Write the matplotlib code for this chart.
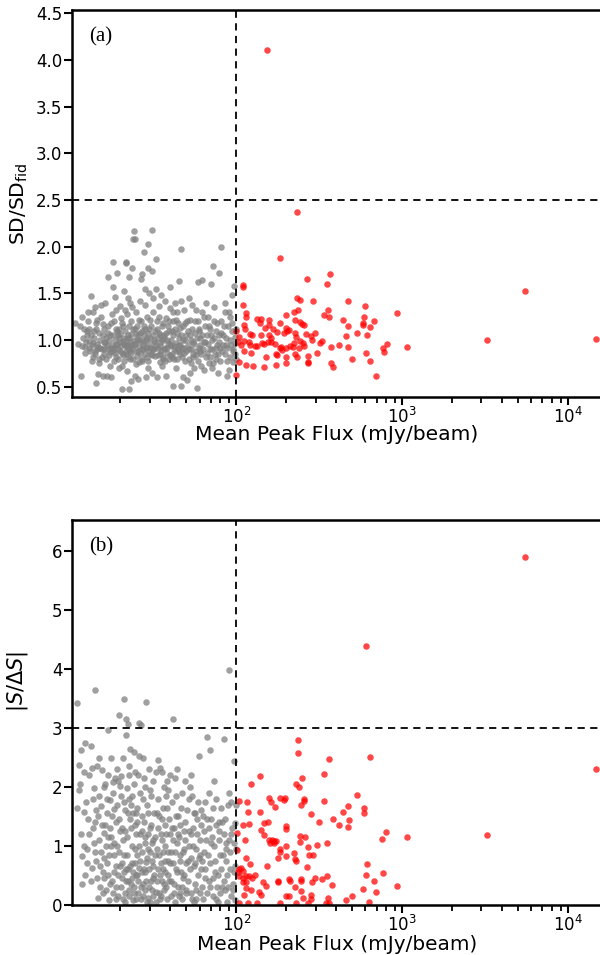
import matplotlib
matplotlib.use("Agg")
import matplotlib.pyplot as plt
import numpy as np

# ---------------- data: panel (a) ----------------
gray_a = [
(10.6,1.18),(11.1,0.96),(11.5,0.62),(11.8,1.25),(12.0,1.12),(12.3,0.93),(11.4,1.15),(12.6,1.05),(12.9,0.92),(12.2,0.86),(11.7,0.94),(12.8,1.2),(13.2,1.47),(12.5,1.1),(13.0,0.99),
(13.4,0.95),(13.7,1.3),(13.9,1.02),(14.1,0.88),(14.3,1.18),(14.5,0.96),(14.2,0.54),(14.6,0.64),(14.9,1.08),(15.1,0.92),(15.3,1.25),(15.5,0.82),(15.2,1.38),(15.8,0.98),(15.9,1.12),(13.6,0.82),(14.0,1.35),(14.8,0.75),(15.6,1.05),(16.0,0.9),(13.8,1.1),(14.4,0.9),(15.6,0.62),
(16.2,1.4),(16.5,0.62),(16.6,0.95),(16.9,1.68),(17.1,0.84),(17.3,1.05),(17.5,0.92),(17.9,1.84),(17.9,1.57),(18.2,1.2),(18.4,0.78),(18.6,1.0),(18.8,1.32),(19.1,1.72),(19.3,0.9),(19.5,0.7),(19.7,1.12),(19.9,0.98),(16.8,1.15),(17.7,1.28),(18.0,0.88),(18.9,0.82),(19.4,1.05),(16.3,1.02),(17.2,0.72),(18.5,1.46),(19.8,1.37),(17.6,0.6),(18.7,0.95),(19.0,1.1),
(20.2,1.24),(20.4,0.86),(20.6,0.99),(20.9,1.52),(21.1,0.78),(21.3,1.1),(21.6,1.84),(21.6,1.83),(21.8,0.93),(22.0,0.67),(22.2,1.45),(22.4,1.68),(22.6,1.02),(22.9,0.88),(23.2,1.2),(23.6,1.77),(23.7,2.08),(24.0,2.17),(24.3,2.08),(24.5,0.96),(24.8,0.74),(24.9,1.3),(20.7,1.15),(21.4,0.95),(22.1,1.05),(22.7,0.8),(23.3,0.95),(23.9,1.12),(24.6,0.62),(20.3,0.72),(21.9,1.28),(23.1,0.56),(20.5,0.48),(22.4,0.48),(22.5,0.9),(24.2,1.0),(20.9,1.02),(21.7,0.85),(23.5,1.35),(24.7,1.06),(22.8,1.4),
(25.3,1.15),(25.6,0.88),(25.9,1.0),(26.2,1.42),(26.7,1.65),(26.9,1.71),(27.1,0.8),(27.6,1.94),(27.9,1.05),(28.2,1.55),(28.5,0.92),(28.8,1.25),(29.2,2.03),(29.2,1.77),(29.5,0.7),(29.9,1.12),(30.3,0.96),(30.6,0.85),(31.0,1.74),(31.0,2.18),(31.5,1.3),(31.8,1.0),(25.8,0.76),(26.5,1.2),(27.3,0.95),(28.0,1.38),(28.9,0.82),(29.7,1.5),(30.9,0.65),(31.3,0.9),(26.1,1.08),(27.8,1.15),(30.1,1.22),(25.5,0.58),(28.4,0.6),(31.6,1.45),(26.9,0.9),(29.0,1.02),
(32.3,0.98),(32.7,1.87),(33.1,1.12),(33.5,0.84),(33.9,1.36),(34.4,0.94),(34.8,1.05),(35.2,1.48),(35.6,0.72),(36.1,1.18),(36.5,0.9),(37.0,1.42),(37.5,0.62),(38.0,1.0),(38.5,1.15),(39.0,0.8),(39.6,1.34),(33.3,0.6),(34.1,1.25),(35.0,0.88),(36.8,1.05),(38.2,0.92),(39.2,1.1),(32.9,1.55),(35.8,1.0),(37.8,1.24),(34.6,0.76),(36.3,0.82),(33.8,1.02),(39.8,0.95),
(40.0,1.57),(40.5,1.0),(41.0,0.85),(41.5,1.2),(42.0,0.94),(42.6,1.4),(43.1,0.7),(43.7,1.08),(44.3,0.9),(45.0,1.63),(45.6,1.13),(46.3,1.97),(46.9,0.82),(47.5,1.0),(48.1,1.32),(48.8,0.78),(49.5,1.05),(41.5,0.51),(46.3,0.51),(44.0,1.3),(46.0,0.95),(47.8,0.6),(43.0,1.22),(45.3,0.88),(49.0,1.18),(40.8,1.1),(42.3,0.8),(44.8,1.02),(46.6,1.42),(48.5,0.92),(41.2,1.3),
(50.6,0.57),(51.2,1.1),(52.0,0.9),(52.8,1.22),(53.5,0.75),(54.3,1.38),(55.1,0.98),(56.0,1.08),(56.8,0.84),(57.6,0.49),(58.4,1.2),(58.7,1.62),(59.3,0.92),(60.2,1.02),(61.0,0.72),(62.0,1.3),(62.3,1.64),(53.0,1.0),(55.6,0.7),(57.0,1.32),(60.6,0.88),(51.6,1.45),(54.8,0.85),(59.8,1.12),(52.4,0.65),
(63.5,0.98),(64.5,1.15),(65.6,0.82),(66.7,1.05),(67.8,1.25),(69.0,0.9),(70.3,1.6),(70.9,0.7),(71.6,1.0),(72.6,1.79),(72.9,1.2),(74.0,0.85),(75.2,1.1),(76.3,0.95),(77.5,0.65),(78.2,1.72),(78.7,1.05),(66.0,1.4),(68.5,0.75),(73.5,1.35),(64.0,0.68),(69.5,1.12),(75.8,0.8),(79.5,0.92),
(80.3,1.2),(81.0,2.0),(82.0,0.88),(83.5,1.05),(84.8,1.3),(86.0,0.95),(87.5,0.78),(89.0,1.15),(90.5,0.68),(92.0,1.0),(93.5,1.1),(94.6,1.48),(95.5,0.9),(96.8,1.58),(97.5,1.03),(98.5,0.85),(99.0,1.12),(85.5,1.4),(88.0,0.62),(91.0,1.25),(95.0,0.76),
(13.1,0.88),(13.3,1.05),(13.5,0.78),(13.7,0.97),(14.0,0.85),(14.2,1.12),(14.4,1.22),(14.7,0.93),(14.9,0.8),(15.0,1.0),(15.4,0.9),(15.7,1.17),(15.9,0.85),(16.1,0.97),(16.4,0.8),(16.7,1.08),(16.9,0.9),(17.1,1.0),(17.4,0.87),(17.6,1.18),(17.8,0.95),(18.1,1.05),(18.3,0.92),(18.6,0.86),(18.8,1.12),(19.1,0.96),(19.2,0.8),(19.6,1.02),(19.8,0.88),(20.0,1.07),
(20.2,0.94),(20.5,1.18),(20.8,0.84),(21.0,0.96),(21.2,1.32),(21.5,0.88),(21.8,1.02),(22.0,0.96),(22.3,0.82),(22.5,1.15),(22.8,0.98),(23.0,0.86),(23.3,1.07),(23.5,0.92),(23.8,0.8),(24.1,0.95),(24.4,1.12),(24.7,0.88),(25.0,1.0),(25.2,0.83),(25.5,1.05),(25.8,0.94),(26.0,1.22),(26.3,0.86),(26.6,1.0),(26.8,0.78),(27.1,1.1),(27.4,0.9),(27.7,0.98),(28.0,0.85),
(28.3,1.12),(28.6,1.0),(28.8,0.93),(29.1,0.78),(29.4,1.08),(29.7,0.88),(30.0,1.02),(30.4,0.92),(30.7,1.15),(31.1,0.84),(31.4,1.05),(31.8,0.9),(32.1,1.1),(32.5,0.83),(32.9,0.95),(33.3,1.2),(33.7,0.92),(34.2,1.08),(34.6,0.85),(35.1,0.98),(35.5,1.15),(35.9,0.8),(36.4,1.02),(36.9,0.92),(37.3,0.78),(37.8,1.08),(38.3,0.86),(38.7,0.97),(39.3,1.2),(39.7,0.84),
(40.2,0.95),(40.7,0.82),(41.3,1.05),(41.8,0.9),(42.4,1.12),(43.0,0.88),(43.5,0.97),(44.1,0.8),(44.6,1.18),(45.2,0.95),(45.8,0.85),(46.4,1.05),(47.0,0.92),(47.6,1.15),(48.2,0.86),(48.9,1.0),(49.5,0.88),(50.2,1.2),(50.9,0.95),(51.6,0.8),(52.3,1.05),(53.0,0.9),(53.8,1.12),(54.6,0.82),(55.4,0.96),(56.2,1.2),(57.0,0.88),(57.8,1.02),(58.6,0.78),(59.5,1.1),
(60.4,0.95),(61.3,0.85),(62.2,1.05),(63.1,0.9),(64.1,1.25),(65.1,0.98),(66.1,0.86),(67.1,0.96),(68.1,1.15),(69.2,0.82),(70.3,1.05),(71.4,0.9),(72.5,0.75),(73.7,1.02),(74.9,0.92),(76.1,1.18),(77.3,0.85),(78.6,0.98),(79.9,0.78),(81.2,1.08),(82.5,0.95),(83.9,1.15),(85.3,0.85),(86.7,1.02),(88.2,0.92),(89.7,1.3),(91.2,0.82),(92.7,0.95),(94.2,1.18),(95.8,0.88),
(97.4,0.97),(98.8,0.8),(11.9,1.02),(12.4,0.98),(12.7,1.3),(13.0,1.12),
]

red_a = [
(153,4.11),(231,2.37),(183,1.88),(365,1.71),(267,1.65),(350,1.60),(109,1.59),(110,1.57),(233,1.45),(241,1.43),(288,1.42),(470,1.42),(109,1.38),(598,1.36),(930,1.29),(356,1.32),(235,1.32),(222,1.30),(336,1.27),(363,1.25),
(115,1.29),(115,1.25),(134,1.23),(141,1.23),(157,1.22),(198,1.27),(441,1.22),(588,1.25),(672,1.20),(580,1.18),(583,1.16),(642,1.14),(472,1.15),(241,1.19),(247,1.17),(255,1.16),(224,1.21),(111,1.16),(139,1.18),
(149,1.13),(157,1.16),(167,1.12),(183,1.18),(199,1.13),(208,1.11),(113,1.12),(100,1.10),(121,1.07),(124,1.05),(140,1.05),(158,1.05),(175,1.09),(193,1.08),(201,1.10),(227,1.08),(230,1.03),(262,1.06),(283,1.04),(299,1.08),
(286,1.00),(243,0.99),(251,0.97),(254,0.94),(239,0.92),(222,0.97),(209,0.94),(218,0.93),(610,1.05),(460,1.04),(533,1.08),(103,1.03),(111,0.99),(119,0.98),(120,0.95),(129,0.94),(133,0.94),(142,0.97),
(146,0.96),(156,0.98),(162,0.98),(171,0.96),(186,0.93),(162,1.02),(183,0.91),(189,0.89),(198,0.92),(318,0.97),(330,0.99),(371,0.93),(417,0.95),(472,0.93),(805,0.96),(762,0.91),(773,0.875),(1064,0.93),
(307,0.86),(271,0.83),(271,0.77),(269,0.75),(111,0.88),(123,0.86),(150,0.82),(173,0.85),(176,0.84),(198,0.82),(225,0.85),(231,0.82),(104,0.76),(115,0.73),(126,0.72),(147,0.71),(173,0.73),(198,0.75),
(371,0.75),(383,0.71),(501,0.80),(607,0.86),(638,0.78),(690,0.61),(100,0.63),(3245,1.00),(5520,1.53),(14750,1.01),(107,0.95),(102,0.98),
]

# ---------------- data: panel (b) ----------------
gray_b = [
(11.0,3.43),(11.2,2.38),(11.6,2.63),(11.3,1.95),(11.0,1.65),(11.5,1.2),(11.8,0.82),(12.2,2.75),(12.0,2.25),(12.4,1.75),(12.6,0.95),(12.3,0.5),(12.8,1.45),(11.4,2.05),(12.9,2.2),(12.1,1.58),(11.7,0.35),
(13.2,2.69),(13.5,2.32),(13.8,1.98),(14.1,3.64),(14.0,1.4),(14.3,0.75),(14.5,2.35),(14.8,1.1),(15.0,0.3),(15.2,1.68),(15.5,2.28),(15.7,0.55),(15.9,1.22),(13.6,1.8),(14.6,0.12),(15.3,0.9),(13.9,1.05),(14.9,1.85),(15.8,2.0),(13.4,0.62),(14.2,1.6),(15.6,0.2),
(16.2,2.05),(16.5,1.55),(16.8,2.97),(17.0,0.85),(17.2,1.3),(17.5,2.5),(17.8,0.4),(18.0,1.9),(18.3,1.05),(18.5,2.15),(18.8,0.65),(19.0,1.7),(19.3,0.15),(19.6,3.23),(19.8,1.25),(16.4,0.25),(17.4,1.78),(18.2,0.55),(19.1,2.3),(16.9,1.15),(17.9,2.08),(18.7,1.4),(19.5,0.9),(16.6,0.7),(17.6,1.0),(18.9,0.3),(19.9,2.02),(17.1,0.08),(18.4,1.62),(16.1,1.35),
(20.2,2.18),(20.5,0.45),(20.9,3.5),(21.1,1.75),(21.4,0.2),(21.6,3.16),(21.7,2.89),(22.1,3.07),(22.0,1.15),(22.3,0.6),(22.6,2.2),(22.9,1.45),(23.2,0.35),(23.5,1.85),(23.8,0.08),(24.1,2.6),(24.4,0.95),(24.7,1.55),(24.9,0.5),(20.4,1.3),(21.0,0.85),(21.8,1.98),(22.5,0.25),(23.0,1.7),(23.6,0.7),(24.2,2.05),(24.8,1.2),(20.7,0.1),(21.3,1.6),(22.2,0.4),(22.8,2.65),(23.4,1.0),(24.0,0.3),(24.6,1.35),(20.1,1.85),(21.5,0.6),(23.9,0.55),(22.4,1.8),(20.6,2.5),(24.5,2.25),
(25.2,1.4),(25.7,3.09),(25.5,0.2),(26.0,2.52),(26.4,0.75),(26.7,3.06),(26.9,1.5),(27.2,0.35),(27.6,2.15),(28.0,1.05),(28.6,3.45),(28.3,0.55),(28.8,1.7),(29.2,0.12),(29.6,2.3),(30.0,0.9),(30.4,1.35),(30.8,0.25),(31.2,2.1),(31.6,0.65),(25.9,1.0),(26.6,0.1),(27.4,1.8),(28.5,0.4),(29.4,1.2),(30.6,1.85),(31.4,0.45),(25.4,2.2),(27.0,1.25),(28.9,0.8),(30.2,0.05),(31.8,1.55),(26.2,1.9),(27.8,0.6),(29.8,0.3),(25.1,0.5),(28.2,2.0),(30.9,1.05),
(32.3,1.15),(32.8,2.25),(33.2,0.4),(33.7,1.8),(34.2,0.85),(34.7,2.32),(35.2,0.15),(35.7,1.45),(36.2,0.6),(36.7,2.0),(37.2,1.0),(37.8,0.3),(38.3,1.65),(38.9,0.75),(39.5,2.2),(32.6,0.05),(33.5,1.3),(34.5,0.5),(35.5,1.1),(36.5,0.25),(37.5,1.85),(38.5,0.9),(39.2,0.4),(33.0,1.55),(35.0,0.7),(36.9,1.35),(38.0,2.1),(39.8,1.2),(34.0,0.2),(37.0,0.55),
(40.3,0.9),(40.8,1.75),(41.5,3.16),(41.8,0.35),(42.3,1.3),(42.9,2.15),(43.5,0.6),(44.1,1.05),(44.7,1.5),(45.4,0.2),(46.0,0.85),(46.7,1.9),(47.4,0.45),(48.1,1.25),(48.8,2.1),(49.5,0.7),(40.6,0.15),(43.2,1.85),(45.0,1.15),(47.0,0.1),(49.0,1.4),(41.2,1.1),(44.4,0.3),(46.3,0.55),(48.4,0.95),(42.6,0.05),(45.7,1.35),(49.8,0.25),
(50.5,1.6),(51.2,0.4),(52.0,1.0),(52.8,2.0),(53.6,0.2),(54.4,1.3),(55.2,0.65),(56.0,1.55),(56.9,0.1),(57.8,1.2),(58.7,0.5),(59.6,2.52),(60.5,0.85),(61.4,1.35),(62.3,0.3),(51.8,1.25),(53.2,0.8),(55.6,0.05),(57.3,0.95),(59.0,1.75),(61.0,0.6),(54.0,1.85),(56.5,0.35),(60.0,1.1),
(63.3,1.5),(64.4,0.45),(65.5,1.1),(66.2,2.84),(66.8,0.2),(67.9,1.3),(69.0,2.63),(69.5,0.7),(70.6,1.45),(71.8,0.15),(73.0,1.0),(74.2,0.55),(75.4,1.8),(76.7,0.3),(78.0,1.25),(79.3,0.85),(64.0,0.9),(68.4,0.4),(72.4,1.65),(77.2,0.05),(65.0,1.75),(70.0,1.05),(74.8,0.1),(79.0,1.4),
(80.7,0.6),(82.0,1.4),(83.8,2.82),(85.0,0.25),(86.5,1.05),(88.0,0.5),(89.5,1.7),(90.7,3.98),(91.5,0.9),(93.0,0.15),(94.5,1.3),(96.3,2.44),(97.0,0.55),(98.0,1.38),(99.0,0.95),(84.0,1.2),(87.2,0.05),(92.2,1.75),(95.6,0.35),(81.3,0.3),(86.0,0.75),(90.0,1.1),(97.8,0.08),
(12.0,1.0),(12.5,0.7),(12.9,1.2),(13.3,0.4),(13.6,1.3),(14.0,0.9),(14.4,0.45),(14.7,1.5),(15.1,0.65),(15.4,1.35),(15.8,0.8),(16.0,0.45),(16.3,1.0),(16.6,1.8),(16.9,0.5),(17.2,0.35),(17.5,1.15),(17.8,1.5),(18.1,0.2),(18.4,0.85),(18.7,0.1),(19.0,1.0),(19.3,0.5),(19.6,1.45),(19.9,0.65),
(20.1,0.3),(20.3,0.7),(20.6,1.1),(20.9,0.55),(21.2,0.05),(21.4,1.25),(21.7,0.4),(22.0,0.85),(22.3,1.55),(22.6,0.15),(22.9,0.65),(23.2,1.3),(23.5,0.45),(23.8,1.55),(24.1,0.2),(24.4,0.7),(24.7,0.1),(25.0,0.85),(25.3,1.65),(25.6,0.4),(25.9,0.62),(26.2,1.2),(26.5,0.3),(26.8,0.9),(27.1,0.55),
(27.4,0.15),(27.7,1.4),(28.0,0.25),(28.3,1.15),(28.6,0.72),(28.9,0.05),(29.2,0.95),(29.5,1.55),(29.8,0.6),(30.1,1.3),(30.5,0.4),(30.8,0.75),(31.2,0.15),(31.6,1.1),(32.0,0.5),(32.4,0.85),(32.8,0.22),(33.2,0.95),(33.6,0.6),(34.1,1.5),(34.5,0.1),(35.0,1.2),(35.4,0.4),(35.9,0.9),(36.3,1.65),
(36.8,0.35),(37.3,0.75),(37.8,1.2),(38.3,0.1),(38.8,0.5),(39.3,1.45),(39.8,0.7),(40.4,0.4),(41.0,1.3),(41.6,0.7),(42.2,0.2),(42.8,0.9),(43.4,1.5),(44.0,0.55),(44.6,1.2),(45.2,0.15),(45.8,0.75),(46.5,1.65),(47.2,0.3),(47.9,0.9),(48.6,0.5),(49.3,1.1),(50.0,0.2),(50.8,0.75),(51.6,1.8),
(52.4,0.6),(53.2,1.2),(54.0,0.1),(54.8,1.0),(55.6,1.55),(56.4,0.7),(57.3,0.25),(58.2,1.45),(59.1,0.8),(60.0,0.2),(61.0,1.6),(62.0,0.75),(63.0,0.1),(64.0,1.25),(65.1,0.6),(66.2,1.45),(67.3,0.85),(68.4,1.9),(69.6,0.3),(70.8,1.15),(72.0,0.45),(73.2,2.1),(74.5,0.75),(75.8,1.35),(77.1,0.5),
(78.4,1.1),(79.8,0.2),(81.2,1.65),(82.6,0.85),(84.1,0.4),(85.6,1.45),(87.1,0.95),(88.6,0.3),(90.2,1.9),(91.8,0.6),(93.4,1.2),(95.0,0.25),(96.6,1.05),(98.2,0.65),(99.0,1.7),(19.4,2.1),(22.5,2.35),(27.2,2.5),(33.8,2.45),(38.8,1.95),(44.0,2.3),(16.8,2.2),(30.3,1.95),(35.8,2.25),(53.0,2.2),(14.8,2.5),
]

red_b = [
(234,2.79),(234,2.58),(363,2.48),(643,2.51),(336,2.22),(139,2.18),(249,2.15),(123,2.05),(230,2.05),(238,2.00),(531,1.86),(104,1.76),(116,1.75),(158,1.81),(161,1.74),(183,1.81),(193,1.78),(196,1.81),
(257,1.80),(254,1.76),(246,1.70),(337,1.76),(172,1.66),(469,1.67),(439,1.58),(588,1.64),(584,1.56),(118,1.57),(139,1.57),(381,1.46),(476,1.43),(474,1.32),(417,1.36),(316,1.40),(281,1.54),
(146,1.39),(155,1.40),(110,1.36),(119,1.37),(200,1.33),(200,1.28),(141,1.27),(146,1.19),(101,1.22),(113,1.10),(157,1.10),(163,1.10),(169,1.09),(174,1.09),(168,1.04),(160,1.04),(200,1.00),
(242,1.17),(260,1.15),(241,1.06),(307,1.02),(350,1.04),(271,0.98),(288,0.84),(274,0.84),(182,0.95),(184,0.90),(178,0.80),(198,0.82),(221,0.88),(224,0.78),(229,0.75),(115,0.80),(120,0.69),
(152,0.66),(267,0.64),(101,0.93),(104,0.61),(110,0.58),(104,0.48),(110,0.46),(114,0.48),(119,0.49),(124,0.45),(129,0.50),(109,0.38),(115,0.39),(114,0.28),(123,0.25),(111,0.17),(136,0.22),(140,0.16),
(144,0.39),(150,0.31),(177,0.41),(179,0.38),(208,0.43),(210,0.41),(244,0.44),(244,0.41),(225,0.30),(245,0.23),(251,0.11),(286,0.38),(326,0.44),(354,0.48),(377,0.33),(299,0.46),(280,0.16),(283,0.10),
(358,0.11),(361,0.03),(200,0.15),(208,0.15),(117,0.03),(103,0.03),(133,0.03),(183,0.03),(229,0.03),(269,0.03),(346,0.03),(459,0.08),(498,0.14),(614,0.69),(604,0.50),(672,0.41),(693,0.22),(583,0.27),
(768,0.53),(928,0.31),(627,0.04),(750,1.12),(801,1.24),(1068,1.15),(5520,5.91),(14750,2.30),(3245,1.18),(603,4.40),(102,0.55),(106,0.62),
]

XLABEL = "Mean Peak Flux (mJy/beam)"
YLABEL_A = r"SD/SD$_{\rm fid}$"
YLABEL_B = r"$|S/\Delta S|$"
PANEL_A = "(a)"
PANEL_B = "(b)"
FLUX_CUT = 100
YCUT_A = 2.5
YCUT_B = 3.0

# ---------------- figure ----------------
fig = plt.figure(figsize=(6.0, 9.55), dpi=100)
W, H = 600.0, 955.0
ax1 = fig.add_axes([72/W, 1-397/H, 529.5/W, 387/H])
ax2 = fig.add_axes([72/W, 1-906/H, 529.5/W, 385/H])

def style(ax):
    ax.set_xscale("log")
    for s in ax.spines.values():
        s.set_linewidth(1.8)
    ax.tick_params(which="major", direction="out", length=5.5, width=1.5, labelsize=12, pad=1.5)
    ax.tick_params(which="minor", direction="out", length=4.5, width=1.3)
    ax.set_xlabel(XLABEL, fontsize=14.6)

def scatter(ax, gray, red):
    gx, gy = zip(*gray)
    rx, ry = zip(*red)
    ax.scatter(gx, gy, s=22, color="#808080", alpha=0.75, linewidths=0, zorder=2)
    ax.scatter(rx, ry, s=22, color="red", alpha=0.72, linewidths=0, zorder=2)

scatter(ax1, gray_a, red_a)
ax1.axvline(FLUX_CUT, color="k", ls=(0, (4, 3)), lw=1.3, zorder=3)
ax1.axhline(YCUT_A, color="k", ls=(0, (4, 3)), lw=1.3, zorder=3)
ax1.set_xlim(10.2, 15900)
ax1.set_ylim(0.39, 4.535)
ax1.set_yticks([0.5, 1.0, 1.5, 2.0, 2.5, 3.0, 3.5, 4.0, 4.5])
style(ax1)
ax1.xaxis.set_label_coords(0.5, -0.072)
ax1.set_ylabel(YLABEL_A, fontsize=14.5, labelpad=4)
ax1.text(0.032, 0.955, PANEL_A, transform=ax1.transAxes, fontsize=15,
         family="Liberation Serif", va="top", ha="left")

scatter(ax2, gray_b, red_b)
ax2.axvline(FLUX_CUT, color="k", ls=(0, (4, 3)), lw=1.3, zorder=3)
ax2.axhline(YCUT_B, color="k", ls=(0, (4, 3)), lw=1.3, zorder=3)
ax2.set_xlim(10.2, 15900)
ax2.set_ylim(0, 6.54)
ax2.set_yticks([0, 1, 2, 3, 4, 5, 6])
style(ax2)
ax2.set_ylabel(YLABEL_B, fontsize=15)
ax2.yaxis.set_label_coords(-0.08, 0.58)
ax2.text(0.032, 0.955, PANEL_B, transform=ax2.transAxes, fontsize=15,
         family="Liberation Serif", va="top", ha="left")

# layout: keep the bottom x label at full size just under its tick labels;
# nudge the lower axes up (a few px at most) so the label fits the canvas.
lab = ax2.xaxis.label
lab.set_fontsize(14.4)
r = fig.canvas.get_renderer()
for _ in range(12):
    fig.canvas.draw()
    box = ax2.get_window_extent(r)
    tb = min(t.get_window_extent(r).y0 for t in ax2.get_xticklabels()
             if t.get_visible() and t.get_text())
    ax2.xaxis.set_label_coords(0.5, (tb - 0.5 - box.y0) / box.height)
    fig.canvas.draw()
    deficit = 1.0 - lab.get_window_extent(r).y0
    if deficit <= 0:
        break
    pos = ax2.get_position()
    shift = min(deficit, 8.0) / H
    if pos.y0 * H > (955 - 906) + 8:
        lab.set_fontsize(lab.get_fontsize() - 0.3)
        continue
    ax2.set_position([pos.x0, pos.y0 + shift, pos.width, pos.height])

fig.savefig("out.png", dpi=100)
